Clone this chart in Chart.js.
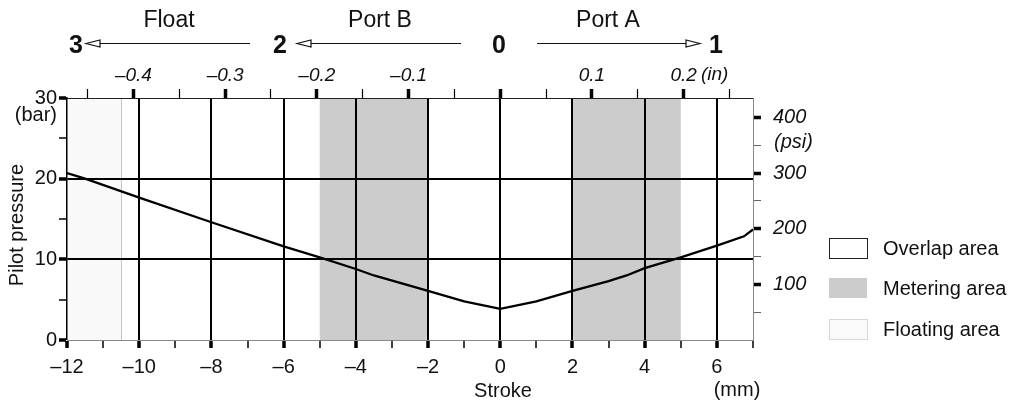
<!DOCTYPE html>
<html><head><meta charset="utf-8">
<script src="https://cdn.jsdelivr.net/npm/chart.js@4.4.1/dist/chart.umd.min.js"></script>
<style>html,body{margin:0;padding:0;background:#fff}#wrap{width:1014px;height:401px;position:relative}</style>
</head><body><div id="wrap"><canvas id="c"></canvas></div>
<script>
// ---- data ----
const strokeMm    = [-12, -11.5, -10, -8, -6, -5, -4, -3.5, -2, -1, 0, 1, 2, 3, 3.5, 4, 5, 6, 6.75, 7];
const pressureBar = [20.7, 20.0, 17.65, 14.6, 11.6, 10.25, 8.8, 8.0, 6.1, 4.8, 3.85, 4.8, 6.1, 7.3, 8.0, 8.9, 10.25, 11.7, 12.85, 13.7];
const strokeTicks = [-12,-11,-10,-9,-8,-7,-6,-5,-4,-3,-2,-1,0,1,2,3,4,5,6,7];
const strokeLabelled = [-12,-10,-8,-6,-4,-2,0,2,4,6];
const strokeGrid = [-10,-8,-6,-4,-2,0,2,4,6];
const inchTicks = [-0.45,-0.4,-0.35,-0.3,-0.25,-0.2,-0.15,-0.1,-0.05,0,0.05,0.1,0.15,0.2,0.25];
const inchMajor = [-0.4,-0.3,-0.2,-0.1,0,0.1,0.2];
const inchLabelled = [-0.4,-0.3,-0.2,-0.1,0.1,0.2];
const barTicks = [0,5,10,15,20,25,30];
const barLabelled = [0,10,20,30];
const barGrid = [10,20];
const psiTicks = [50,100,150,200,250,300,350,400];
const psiLabelled = [100,200,300,400];
const meteringRanges = [[-5,-2],[2,5]];
const floatingRange = [-12,-10.5];
const legendLabels = ['Overlap area','Metering area','Floating area'];
const portLabels = ['Float','Port B','Port A'];
const positionLabels = ['3','2','0','1'];
const MM_PER_IN = 25.4;
const PSI_PER_BAR = 14.5038;

const FONT = '"Liberation Sans", Arial, sans-serif';
Chart.defaults.font.family = FONT;
Chart.defaults.color = '#111';

const fmtMm = v => (v < 0 ? '\u2013' + Math.abs(v) : String(v));
const fmtIn = v => (v < 0 ? '\u2013' : '') + Math.abs(v).toFixed(1);
const has = (arr, v) => arr.some(a => Math.abs(a - v) < 1e-9);

const decor = {
  id: 'decor',
  beforeDraw(chart) {
    const {ctx, chartArea: a, scales: {x}} = chart;
    ctx.save();
    const f0 = x.getPixelForValue(floatingRange[0]), f1 = x.getPixelForValue(floatingRange[1]);
    ctx.fillStyle = '#f9f9f9';
    ctx.fillRect(f0, a.top, f1 - f0, a.bottom - a.top);
    ctx.strokeStyle = '#c4c4c4'; ctx.lineWidth = 1;
    ctx.beginPath(); ctx.moveTo(Math.round(f1) + 0.5, a.top); ctx.lineTo(Math.round(f1) + 0.5, a.bottom); ctx.stroke();
    ctx.fillStyle = '#cccccc';
    meteringRanges.forEach(([s, e]) => {
      const p0 = x.getPixelForValue(s), p1 = x.getPixelForValue(e);
      ctx.fillRect(p0, a.top, p1 - p0, a.bottom - a.top);
    });
    ctx.restore();
  },
  afterDraw(chart) {
    const {ctx} = chart;
    ctx.save();
    ctx.fillStyle = '#111';
    // port labels
    ctx.font = '23px ' + FONT; ctx.textAlign = 'center'; ctx.textBaseline = 'alphabetic';
    [169, 380, 608].forEach((px, i) => ctx.fillText(portLabels[i], px, 27));
    // position numbers
    ctx.font = 'bold 25px ' + FONT;
    [76, 280, 499, 716].forEach((px, i) => ctx.fillText(positionLabels[i], px, 53));
    // arrows
    const arrow = (from, tip, y) => {
      const dir = tip > from ? 1 : -1;
      const base = tip - dir * 14;
      ctx.strokeStyle = '#111'; ctx.lineWidth = 1.2;
      ctx.beginPath(); ctx.moveTo(from, y); ctx.lineTo(base, y); ctx.stroke();
      ctx.beginPath(); ctx.moveTo(tip, y); ctx.lineTo(base, y - 3.5); ctx.lineTo(base, y + 3.5); ctx.closePath();
      ctx.fillStyle = '#fff'; ctx.fill(); ctx.stroke();
    };
    arrow(250, 86, 43.5);
    arrow(461, 297, 43.5);
    arrow(537, 700, 43.5);
    ctx.fillStyle = '#111';
    // unit labels
    ctx.font = 'italic 19px ' + FONT; ctx.textAlign = 'left';
    ctx.fillText('(in)', 701, 80);
    ctx.font = 'italic 20px ' + FONT;
    ctx.fillText('(psi)', 774, 148);
    ctx.font = '20px ' + FONT; ctx.textAlign = 'right';
    ctx.fillText('(bar)', 57, 121);
    ctx.textAlign = 'center';
    ctx.fillText('Stroke', 503, 397);
    ctx.fillText('(mm)', 737, 396);
    ctx.save();
    ctx.translate(23, 225); ctx.rotate(-Math.PI / 2);
    ctx.fillText('Pilot pressure', 0, 0);
    ctx.restore();
    // legend
    const boxes = [
      {y: 238, fill: '#ffffff', stroke: '#222'},
      {y: 278, fill: '#cccccc', stroke: null},
      {y: 319, fill: '#fafafa', stroke: '#d6d6d6'}
    ];
    ctx.textAlign = 'left'; ctx.textBaseline = 'middle'; ctx.font = '20px ' + FONT;
    boxes.forEach((b, i) => {
      ctx.fillStyle = b.fill; ctx.fillRect(829, b.y, 38, 20);
      if (b.stroke) { ctx.strokeStyle = b.stroke; ctx.lineWidth = 1; ctx.strokeRect(829.5, b.y + 0.5, 38, 20); }
      ctx.fillStyle = '#111';
      ctx.fillText(legendLabels[i], 883, b.y + 11);
    });
    ctx.restore();
  }
};

new Chart(document.getElementById('c'), {
  type: 'line',
  data: {
    datasets: [{
      data: strokeMm.map((v, i) => ({x: v, y: pressureBar[i]})),
      borderColor: '#000', borderWidth: 2.3, pointRadius: 0, tension: 0, fill: false
    }]
  },
  options: {
    responsive: true, maintainAspectRatio: false, animation: false,
    layout: {padding: 0},
    plugins: {legend: {display: false}, tooltip: {enabled: false}},
    scales: {
      x: {
        type: 'linear', position: 'bottom', min: -12, max: 7,
        afterBuildTicks: s => { s.ticks = strokeTicks.map(v => ({value: v})); },
        afterFit: s => { s.height = 61; },
        border: {display: true, color: '#888', width: 1},
        grid: {
          drawOnChartArea: true, drawTicks: true, tickLength: 8,
          color: '#000', tickColor: '#000',
          lineWidth: c => has(strokeGrid, c.tick.value) ? 2 : 0,
          tickWidth: c => has(strokeLabelled, c.tick.value) ? 3.5 : 1.5
        },
        ticks: {autoSkip: false, maxRotation: 0, padding: 7, font: {size: 20}, color: '#111',
          callback: v => has(strokeLabelled, v) ? fmtMm(v) : ''}
      },
      x2: {
        type: 'linear', position: 'top', min: -12 / MM_PER_IN, max: 7 / MM_PER_IN,
        afterBuildTicks: s => { s.ticks = inchTicks.map(v => ({value: v})); },
        afterFit: s => { s.height = 98; },
        border: {display: true, color: '#222', width: 1},
        grid: {
          drawOnChartArea: false, drawTicks: true, tickLength: 9, tickColor: '#000',
          tickWidth: c => has(inchMajor, c.tick.value) ? 3.5 : 1.2
        },
        ticks: {autoSkip: false, maxRotation: 0, padding: 2, font: {size: 19, style: 'italic'}, color: '#111',
          callback: v => has(inchLabelled, v) ? fmtIn(v) : ''}
      },
      y: {
        type: 'linear', position: 'left', min: 0, max: 30,
        afterBuildTicks: s => { s.ticks = barTicks.map(v => ({value: v})); },
        afterFit: s => { s.width = 67; },
        border: {display: true, color: '#000', width: 1.5},
        grid: {
          drawOnChartArea: true, drawTicks: true, tickLength: 8,
          color: '#000', tickColor: '#000',
          lineWidth: c => has(barGrid, c.tick.value) ? 2 : 0,
          tickWidth: c => has(barLabelled, c.tick.value) ? 3.5 : 1.5
        },
        ticks: {autoSkip: false, padding: 2, font: {size: 20}, color: '#111',
          callback: v => has(barLabelled, v) ? String(v) : ''}
      },
      y2: {
        type: 'linear', position: 'right', min: 0, max: 30 * PSI_PER_BAR,
        afterBuildTicks: s => { s.ticks = psiTicks.map(v => ({value: v})); },
        afterFit: s => { s.width = 261; },
        border: {display: true, color: '#888', width: 1},
        grid: {
          drawOnChartArea: false, drawTicks: true, tickLength: 8, tickColor: c => has(psiLabelled, c.tick.value) ? '#000' : '#666',
          tickWidth: c => has(psiLabelled, c.tick.value) ? 3.5 : 1
        },
        ticks: {autoSkip: false, padding: 12, font: {size: 20, style: 'italic'}, color: '#111',
          callback: v => has(psiLabelled, v) ? String(v) : ''}
      }
    }
  },
  plugins: [decor]
});
</script>
</body></html>
